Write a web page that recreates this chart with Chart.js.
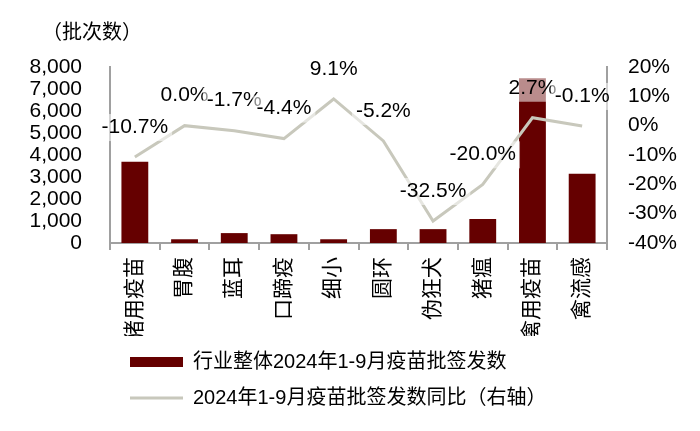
<!DOCTYPE html>
<html>
<head>
<meta charset="utf-8">
<script src="https://cdn.jsdelivr.net/npm/chart.js@4"></script>
<style>
  body { margin: 0; background: #fff; }
  #wrap { width: 700px; height: 431px; position: relative; }
</style>
</head>
<body>
<div id="wrap"><canvas id="c"></canvas></div>
<script>
// 2024年1-9月疫苗批签发：柱 = 批次数（左轴），线 = 同比（右轴）
const categories = ["猪用疫苗", "胃腹", "蓝耳", "口蹄疫", "细小", "圆环", "伪狂犬", "猪瘟", "禽用疫苗", "禽流感"];
const batches = [3690, 170, 450, 400, 170, 630, 630, 1090, 7490, 3150];
const yoy = [-10.7, 0.0, -1.7, -4.4, 9.1, -5.2, -32.5, -20.0, 2.7, -0.1];
const leftTicks = { min: 0, max: 8000, step: 1000 };
const rightTicks = { min: -40, max: 20, step: 10 };

const C = { bar: "#650000", line: "#c8c8bc", axis: "#a0a0a0", ink: "#000" };
const FONT = "'Liberation Sans', Arial, 'Noto Sans CJK SC', sans-serif";

// 数据标签：带半透明白底，放在折线点上方
const pctLabels = {
  id: "pctLabels",
  afterDatasetsDraw(chart) {
    const meta = chart.getDatasetMeta(1);
    const ctx = chart.ctx;
    ctx.save();
    ctx.font = "21px " + FONT;
    ctx.textAlign = "center";
    ctx.textBaseline = "middle";
    meta.data.forEach((pt, i) => {
      const t = yoy[i].toFixed(1) + "%";
      const w = ctx.measureText(t).width;
      const x = pt.x, y = pt.y - 30;
      ctx.fillStyle = "rgba(255,255,255,0.55)";
      ctx.fillRect(x - w / 2 - 4, y - 13, w + 8, 27);
      ctx.fillStyle = C.ink;
      ctx.fillText(t, x, y);
    });
    ctx.restore();
  },
};

// 标题和图例往右挪
const shiftBlocks = {
  id: "shiftBlocks",
  afterLayout(chart) {
    if (chart.titleBlock) chart.titleBlock.left = 42;
    if (chart.legend) chart.legend.left = 114;
  },
};

new Chart(document.getElementById("c"), {
  data: {
    labels: categories,
    datasets: [
      {
        type: "bar",
        label: "行业整体2024年1-9月疫苗批签发数",
        data: batches,
        backgroundColor: C.bar,
        borderWidth: 0,
        barPercentage: 0.54,
        categoryPercentage: 1,
        yAxisID: "y",
        order: 2,
        pointStyle: "rect",
      },
      {
        type: "line",
        label: "2024年1-9月疫苗批签发数同比（右轴）",
        data: yoy,
        borderColor: C.line,
        backgroundColor: C.line,
        borderWidth: 3,
        pointRadius: 0,
        tension: 0,
        yAxisID: "y1",
        order: 1,
        pointStyle: "line",
      },
    ],
  },
  options: {
    responsive: true,
    maintainAspectRatio: false,
    animation: false,
    layout: { padding: { left: 0, right: 0, top: 0, bottom: 13 } },
    plugins: {
      tooltip: { enabled: false },
      title: {
        display: true,
        text: "（批次数）",
        align: "start",
        color: C.ink,
        font: { family: FONT, size: 20, weight: "normal" },
        padding: { top: 21, bottom: 22 },
      },
      legend: {
        position: "bottom",
        align: "start",
        labels: {
          usePointStyle: true,
          pointStyleWidth: 53,
          boxHeight: 10,
          padding: 16,
          color: C.ink,
          font: { family: FONT, size: 20 },
          sort: (a, b) => a.datasetIndex - b.datasetIndex,
        },
      },
    },
    scales: {
      x: {
        offset: true,
        grid: { display: true, drawOnChartArea: false, drawTicks: true, tickLength: 7, color: C.axis, lineWidth: 2, offset: true },
        border: { display: true, color: C.axis, width: 2 },
        ticks: { color: C.ink, padding: 7, minRotation: 90, maxRotation: 90, autoSkip: false, font: { family: FONT, size: 21 } },
        afterFit: (s) => { s.height = 93; },
      },
      y: {
        position: "left",
        min: leftTicks.min,
        max: leftTicks.max,
        grid: { display: false, drawTicks: false },
        border: { display: true, color: C.axis, width: 2 },
        ticks: {
          stepSize: leftTicks.step,
          autoSkip: false,
          padding: 28,
          color: C.ink,
          font: { family: FONT, size: 21 },
          callback: (v) => v.toLocaleString("en-US"),
        },
        afterFit: (s) => { s.width = 110; },
      },
      y1: {
        position: "right",
        min: rightTicks.min,
        max: rightTicks.max,
        grid: { display: false, drawTicks: false },
        border: { display: true, color: C.axis, width: 2 },
        ticks: {
          stepSize: rightTicks.step,
          autoSkip: false,
          padding: 21,
          color: C.ink,
          font: { family: FONT, size: 21 },
          callback: (v) => v + "%",
        },
        afterFit: (s) => { s.width = 93; },
      },
    },
  },
  plugins: [pctLabels, shiftBlocks],
});
</script>
</body>
</html>
